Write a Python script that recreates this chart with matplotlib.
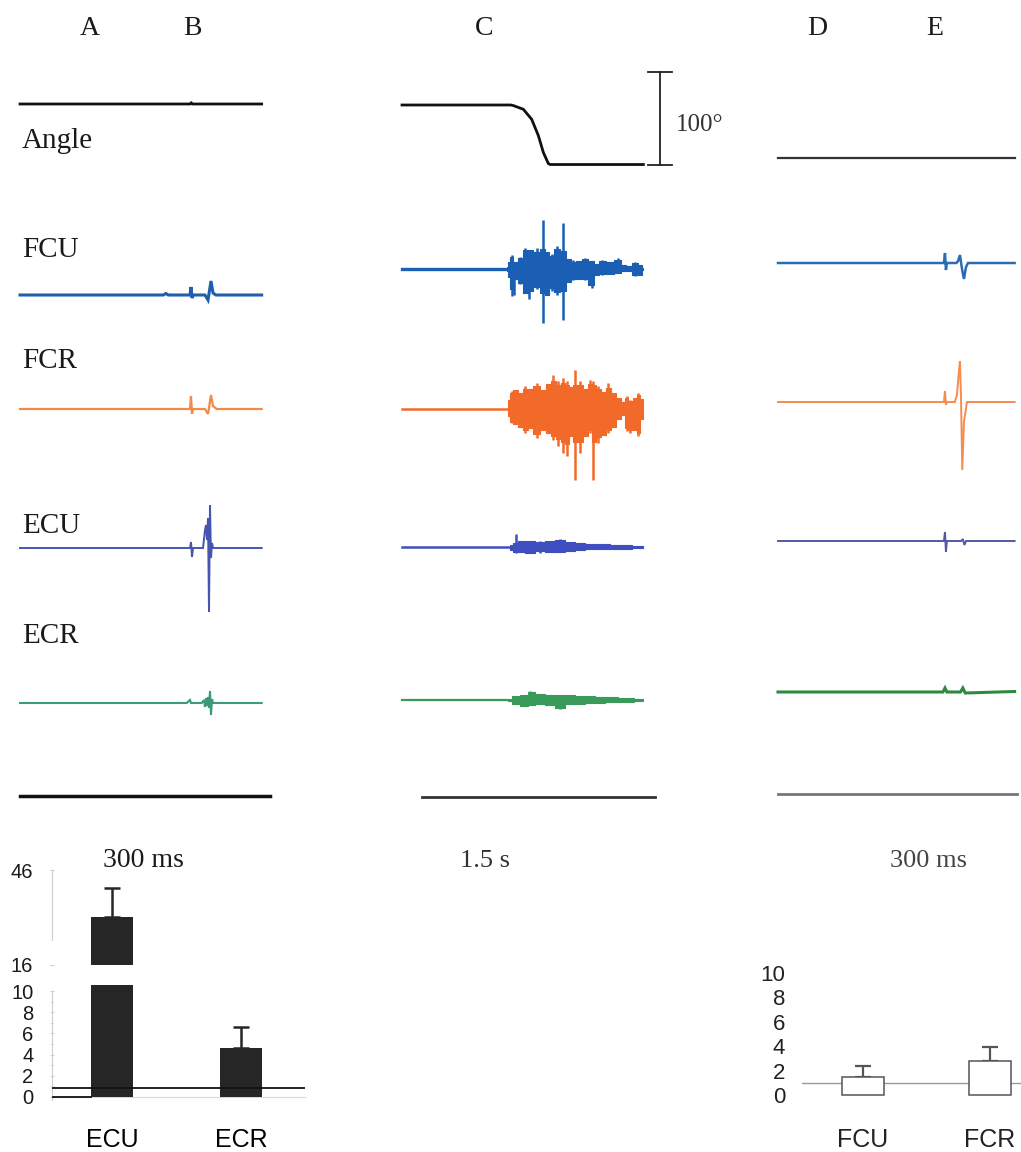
import numpy as np
import matplotlib
matplotlib.use('Agg')
import matplotlib.pyplot as plt

W, H = 1021, 1152
SERIF = 'Liberation Serif'
SANS = 'Liberation Sans'

# ---- data ------------------------------------------------------------
ANGLE_SCALE = 0.93          # px per degree (100 deg bar = 93 px)

# column A/B (300 ms window), amplitudes in arbitrary units, time in ms
angle_a_t = [0, 204, 205.5, 207, 290]
angle_a_deg = [0, 0, 1.2, 0, 0]
fcu_a_t = [0, 172, 175, 178, 204, 205.2, 206.4, 208, 222, 225.6, 229.2, 231.6, 235, 290]
fcu_a_v = [0, 0, 1.5, 0, 0, 8, -3, 0, 0, -5, 14, 2, 0, 0]
fcr_a_t = [0, 204, 205.2, 206.4, 207.6, 222, 225.6, 229.2, 231.6, 236, 290]
fcr_a_v = [0, 0, 13, -5, 0, 0, -5, 14, 3, 0, 0]
ecu_a_t = [0, 204, 205.2, 206.4, 207.6, 219.6, 222, 223.2, 224.4, 225.6, 226.8, 228, 229.2, 230.4, 231.6, 290]
ecu_a_v = [0, 0, 6, -9, 0, 0, 18, 23, 8, 30, -64, 43, -10, 5, 0, 0]
ecr_a_t = [0, 200, 204, 205.2, 218, 220.8, 222, 223.2, 224.4, 225.6, 226.8, 228, 229.2, 230.4, 231.6, 290]
ecr_a_v = [0, 0, 3, 0, 0, 3, -4, 5, -3, 6, -5, 12, -12, 4, 0, 0]
scale_a = [0, 300]

# column C (1.5 s window)
angle_c_t = [0, 700, 715, 781, 835, 878, 910, 942, 955, 1554]
angle_c_deg = [0, 0, -0.5, -4.6, -15.4, -33, -51, -63, -64, -64]
angle_bar_deg = 100
trace_c_end = 1554

fcu_c_t = [674, 685, 706, 728, 760, 792, 824, 867, 910, 932, 964, 996, 1039, 1071,
           1103, 1135, 1179, 1222, 1254, 1286, 1340, 1393, 1426, 1458, 1501, 1533, 1554]
fcu_c_up = [2, 7, 12, 7, 11, 19, 19, 17, 20, 17, 13, 20, 18, 10, 7, 8, 10, 8, 5, 8, 7, 9, 4, 3, 6, 4, 1]
fcu_c_dn = [2, 8, 20, 10, 14, 24, 22, 18, 24, 26, 19, 23, 22, 13, 10, 10, 10, 16, 6, 5, 5, 4, 2, 2, 6, 6, 1]
fcu_c_spk_t = [706, 722, 760, 792, 815, 867, 910, 964, 996, 1039, 1103, 1179, 1222, 1286, 1393, 1501]
fcu_c_spk_up = [14, 6, 12, 21, 18, 21, 49, 15, 23, 46, 9, 11, 8, 9, 11, 7]
fcu_c_spk_dn = [27, 26, 15, 22, 30, 20, 54, 22, 26, 51, 11, 11, 19, 6, 4, 7]

fcr_c_t = [685, 706, 728, 760, 792, 824, 867, 910, 942, 975, 1007, 1039, 1061, 1093, 1114, 1146,
           1179, 1211, 1232, 1264, 1297, 1329, 1361, 1393, 1426, 1447, 1468, 1501, 1522, 1544, 1554]
fcr_c_up = [9, 16, 19, 16, 20, 20, 23, 19, 25, 28, 24, 26, 24, 22, 24, 24,
            20, 25, 24, 20, 17, 21, 16, 11, 7, 11, 8, 11, 14, 10, 2]
fcr_c_dn = [7, 13, 15, 18, 21, 19, 25, 21, 24, 27, 30, 33, 35, 27, 33, 33,
            27, 21, 33, 28, 26, 21, 18, 10, 6, 19, 21, 21, 24, 10, 2]
fcr_c_spk_t = [706, 792, 867, 975, 1007, 1039, 1061, 1114, 1146, 1211, 1232, 1264, 1329, 1447, 1468, 1522]
fcr_c_spk_up = [18, 23, 26, 34, 28, 31, 28, 39, 28, 29, 28, 23, 26, 13, 9, 16]
fcr_c_spk_dn = [14, 24, 29, 31, 37, 44, 47, 71, 44, 24, 71, 34, 24, 22, 24, 27]

ecu_c_t = [696, 734, 760, 824, 889, 953, 1018, 1082, 1146, 1211, 1275, 1404, 1552]
ecu_c_up = [2, 4, 6, 6, 5, 6, 7, 5, 4, 3, 3, 2, 1]
ecu_c_dn = [3, 5, 5, 6, 4, 5, 5, 4, 3, 2, 2, 2, 1]
ecu_c_spk_t = [734, 889, 1018]
ecu_c_spk_up = [13, 6, 8]
ecu_c_spk_dn = [6, 6, 5]

ecr_c_t = [683, 728, 792, 824, 889, 953, 1018, 1082, 1146, 1211, 1275, 1340, 1436, 1552]
ecr_c_up = [1, 4, 5, 8, 6, 5, 5, 5, 4, 4, 3, 3, 2, 1]
ecr_c_dn = [1, 4, 6, 5, 4, 5, 8, 4, 4, 3, 3, 2, 2, 1]
ecr_c_spk_t = [824, 1018]
ecr_c_spk_up = [9, 4]
ecr_c_spk_dn = [3, 9]
scale_c = [130, 1630]

# column D/E (300 ms window)
angle_e_t = [0, 297]
angle_e_deg = [0, 0]
fcu_e_t = [0, 208.3, 209.6, 210.8, 212, 224, 226, 228.4, 231, 233.4, 236, 238.5, 297]
fcu_e_v = [0, 0, 10, -7, 0, 0, 2, 8, -6, -16, -4, 0, 0]
fcr_e_t = [0, 208.3, 209.6, 210.8, 212, 222, 224.6, 227, 228.4, 229.7, 231.3, 233.4, 237.2, 297]
fcr_e_v = [0, 0, 11, -3, 0, 0, 7, 30, 41, 5, -68, -20, 0, 0]
ecu_e_t = [0, 208.3, 209.6, 210.8, 212, 230, 232, 234, 236, 297]
ecu_e_v = [0, 0, 9, -11, 0, 0, 2, -4, 0, 0]
ecr_e_t = [0, 207, 209.6, 212, 229, 232, 235, 297]
ecr_e_v = [0, 0, 4, 0, 0, 4, -1, 0.5]
scale_e = [0, 300]

# bar charts
left_names = ['ECU', 'ECR']
left_means = [31.2, 4.6]
left_err = [9.0, 2.0]
left_ref = 0.85
right_names = ['FCU', 'FCR']
right_means = [1.5, 2.8]
right_err = [0.9, 1.1]
right_ref = 1.0

# ---- figure ----------------------------------------------------------
fig = plt.figure(figsize=(W / 100, H / 100), dpi=100)


def px_axes(x0, x1, y0, y1):
    return fig.add_axes([x0 / W, 1 - y1 / H, (x1 - x0) / W, (y1 - y0) / H])


def ptext(x, y, s, size=21, ha='left', family=SERIF, color='#1a1a1a'):
    fig.text(x / W, 1 - y / H, s, fontsize=size, ha=ha, va='baseline',
             family=family, color=color)


def trace_axes(x0, x1, t0_px, ms_per_px):
    ax = px_axes(x0, x1, 0, 830)
    ax.set_xlim((x0 - t0_px) * ms_per_px, (x1 - t0_px) * ms_per_px)
    ax.set_ylim(830, 0)
    ax.set_axis_off()
    return ax


def trace(ax, base, t, v, color, lw):
    ax.plot(t, base - np.asarray(v, float), color=color, lw=lw, solid_joinstyle='miter')


def burst(ax, base, end, t, up, dn, st, su, sd, color, lw=1.6):
    ax.plot([0, t[0]], [base, base], color=color, lw=lw)
    ax.plot([t[-1], end], [base, base], color=color, lw=lw)
    ax.fill_between(t, base - np.asarray(up), base + np.asarray(dn),
                    step='mid', color=color, lw=0.8)
    ax.vlines(st, base - np.asarray(su), base + np.asarray(sd), color=color, lw=1.8)


# column A/B
ax_a = trace_axes(0, 330, 20, 1.2)
trace(ax_a, 104, angle_a_t, np.asarray(angle_a_deg) * ANGLE_SCALE, '#111111', 2)
trace(ax_a, 295, fcu_a_t, fcu_a_v, '#1f5fae', 2.2)
trace(ax_a, 409, fcr_a_t, fcr_a_v, '#f28a48', 1.6)
trace(ax_a, 548, ecu_a_t, ecu_a_v, '#4656b0', 1.4)
trace(ax_a, 703, ecr_a_t, ecr_a_v, '#3a9a7a', 1.5)
ax_a.plot(scale_a, [796, 796], color='#111111', lw=2.5)

# column C
ax_c = trace_axes(380, 760, 402, 1500 / 233)
trace(ax_c, 105, angle_c_t, np.asarray(angle_c_deg) * ANGLE_SCALE, '#111111', 2)
bar_bottom = 105 - angle_c_deg[-1] * ANGLE_SCALE
bar_top = bar_bottom - angle_bar_deg * ANGLE_SCALE
bar_t = 1661
ax_c.plot([bar_t, bar_t], [bar_bottom, bar_top], color='#222222', lw=1.3)
for yy in (bar_bottom, bar_top):
    ax_c.plot([bar_t - 75, bar_t + 75], [yy, yy], color='#222222', lw=1.3)
burst(ax_c, 269, trace_c_end, fcu_c_t, fcu_c_up, fcu_c_dn,
      fcu_c_spk_t, fcu_c_spk_up, fcu_c_spk_dn, '#1a5fb4', 2.4)
burst(ax_c, 409, trace_c_end, fcr_c_t, fcr_c_up, fcr_c_dn,
      fcr_c_spk_t, fcr_c_spk_up, fcr_c_spk_dn, '#f26a2a', 1.8)
burst(ax_c, 547, trace_c_end, ecu_c_t, ecu_c_up, ecu_c_dn,
      ecu_c_spk_t, ecu_c_spk_up, ecu_c_spk_dn, '#3f4fbf', 1.8)
burst(ax_c, 700, trace_c_end, ecr_c_t, ecr_c_up, ecr_c_dn,
      ecr_c_spk_t, ecr_c_spk_up, ecr_c_spk_dn, '#3a9a5a', 1.6)
ax_c.plot(scale_c, [797, 797], color='#333333', lw=2)

# column D/E
ax_e = trace_axes(760, 1021, 778, 300 / 239)
trace(ax_e, 158, angle_e_t, np.asarray(angle_e_deg) * ANGLE_SCALE, '#333333', 1.6)
trace(ax_e, 263, fcu_e_t, fcu_e_v, '#2a6db5', 1.8)
trace(ax_e, 402, fcr_e_t, fcr_e_v, '#f58c50', 1.4)
trace(ax_e, 541, ecu_e_t, ecu_e_v, '#5557a8', 1.4)
trace(ax_e, 692, ecr_e_t, ecr_e_v, '#2e8b3e', 2.2)
ax_e.plot(scale_e, [794, 794], color='#777777', lw=2)

# text labels
for x, s in [(90, 'A'), (192, 'B'), (484, 'C'), (817, 'D'), (935, 'E')]:
    ptext(x, 35, s, size=20, ha='center')
for y, s in [(148, 'Angle'), (257, 'FCU'), (368, 'FCR'), (533, 'ECU'), (643, 'ECR')]:
    ptext(22, y, s, size=21)
ptext(676, 131, '100°', size=18, color='#333333')
ptext(143, 867, '300 ms', size=20, ha='center')
ptext(485, 867, '1.5 s', size=19, ha='center', color='#333333')
ptext(928, 867, '300 ms', size=19, ha='center', color='#444444')

# ---- left bar chart (broken axis) -----------------------------------
def bar_x(px, c0, step):
    return (px - c0) / step

lx0, lx1 = 52, 305
lc0, lstep = 112, 129
lw_bar = 42 / lstep
low = px_axes(lx0, lx1, 985, 1100)
low.set_ylim(-(1100 - 1097) / 10.6, (1097 - 985) / 10.6)
high = px_axes(lx0, lx1, 870, 965)
high.set_ylim(16, 46)
xs = np.arange(len(left_names))
for ax in (low, high):
    ax.set_xlim(bar_x(lx0, lc0, lstep), bar_x(lx1, lc0, lstep))
    ax.bar(xs, left_means, width=lw_bar, color='#262626', zorder=3)
    ax.errorbar(xs, left_means, yerr=[[0] * len(xs), left_err], fmt='none',
                ecolor='#262626', elinewidth=1.8, capsize=5.5, capthick=1.8, zorder=2)
    ax.axhline(left_ref, color='#111111', lw=1.3, zorder=4)
    for side in ('top', 'right'):
        ax.spines[side].set_visible(False)
    ax.spines['left'].set_color('#cfcfcf')
    ax.tick_params(axis='y', colors='#cfcfcf', labelcolor='#1a1a1a',
                   labelsize=14.5, length=3, direction='inout', pad=12)

low.set_yticks([0, 2, 4, 6, 8, 10])
low.set_yticks(np.arange(0, 11, 1), minor=True)
low.tick_params(axis='y', which='minor', colors='#dddddd', length=3, direction='inout')
low.spines['left'].set_bounds(-0.28, 10)
low.spines['bottom'].set_position(('data', 0))
low.spines['bottom'].set_color('#d8d8d8')
low.plot([low.get_xlim()[0], xs[0] - lw_bar / 2], [0, 0], color='#111111', lw=1.3, zorder=4)
low.set_xticks(xs, left_names)
low.tick_params(axis='x', length=0, pad=22, labelsize=18)
for lab in low.get_yticklabels() + low.get_xticklabels():
    lab.set_family(SANS)

high.set_yticks([16, 46])
high.spines['left'].set_bounds(24, 46)
high.spines['bottom'].set_visible(False)
high.set_xticks([])
for lab in high.get_yticklabels():
    lab.set_family(SANS)

# ---- right bar chart -------------------------------------------------
rx0, rx1 = 802, 1021
rc0, rstep = 863, 127
rw_bar = 42 / rstep
rax = px_axes(rx0, rx1, 968, 1097)
rax.set_xlim(bar_x(rx0, rc0, rstep), bar_x(rx1, rc0, rstep))
rax.set_ylim(-0.15, 10.4)
rxs = np.arange(len(right_names))
rax.axhline(right_ref, color='#999999', lw=1, zorder=1)
rax.bar(rxs, right_means, width=rw_bar, color='white', edgecolor='#555555',
        lw=1.1, zorder=3)
rax.errorbar(rxs, right_means, yerr=[[0] * len(rxs), right_err], fmt='none',
             ecolor='#555555', elinewidth=1.6, capsize=6, capthick=1.6, zorder=2)
for s in rax.spines.values():
    s.set_visible(False)
rax.set_yticks([0, 2, 4, 6, 8, 10])
rax.set_xticks(rxs, right_names)
rax.tick_params(axis='y', length=0, pad=12, labelsize=16, labelcolor='#222222')
rax.tick_params(axis='x', length=0, pad=22, labelsize=18, labelcolor='#222222')
for lab in rax.get_yticklabels() + rax.get_xticklabels():
    lab.set_family(SANS)

fig.savefig('out.png', dpi=100)
